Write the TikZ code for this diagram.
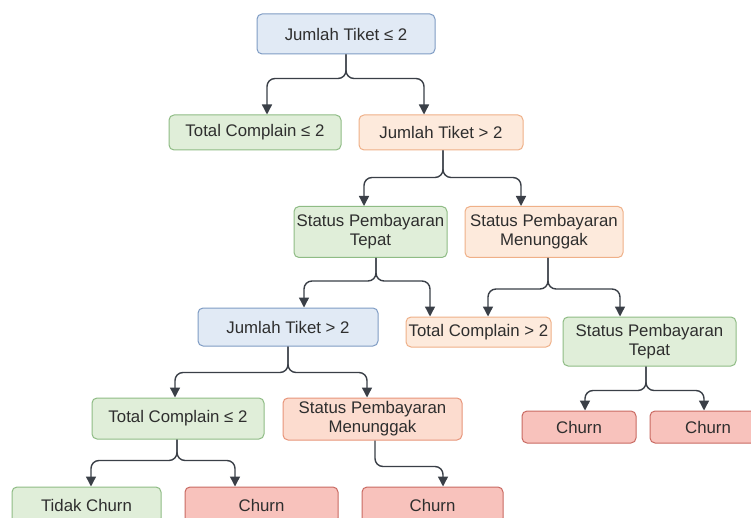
\documentclass[tikz,border=0pt]{standalone}
\usepackage{fontspec}
\setmainfont{Liberation Sans}
\usetikzlibrary{arrows.meta}

\definecolor{blueFill}{HTML}{E1EAF5}
\definecolor{blueLine}{HTML}{7F9CC4}
\definecolor{greenFill}{HTML}{E0EED9}
\definecolor{greenLine}{HTML}{8FBC85}
\definecolor{peachFill}{HTML}{FDEADC}
\definecolor{peachLine}{HTML}{EFB088}
\definecolor{salmonFill}{HTML}{FCDCCF}
\definecolor{salmonLine}{HTML}{E8957A}
\definecolor{redFill}{HTML}{F8C2BC}
\definecolor{redLine}{HTML}{C96A62}
\definecolor{wire}{HTML}{3A3F47}

\begin{document}
\begin{tikzpicture}[x=1pt, y=-1pt,
    >={Triangle[width=10pt,length=10pt]},
    box/.style={draw, rounded corners=5pt, line width=1pt, align=center,
      inner sep=0pt, font=\fontsize{16.8}{19}\selectfont, text=black!82},
    blue/.style={box, fill=blueFill, draw=blueLine},
    green/.style={box, fill=greenFill, draw=greenLine},
    peach/.style={box, fill=peachFill, draw=peachLine},
    salmon/.style={box, fill=salmonFill, draw=salmonLine},
    red/.style={box, fill=redFill, draw=redLine},
    edge/.style={->, line width=1.4pt, draw=wire, rounded corners=8pt}]

  \clip (0,0) rectangle (751,518);
  \fill[white] (0,0) rectangle (751,518);

  \node[blue,   minimum width=178, minimum height=40] (root)   at (346,34)    {Jumlah Tiket ≤ 2};
  \node[green,  minimum width=172, minimum height=35] (tc1)    at (255,132.5) {Total Complain ≤ 2};
  \node[peach,  minimum width=164, minimum height=35] (jt1)    at (441,132.5) {Jumlah Tiket > 2};
  \node[green,  minimum width=153, minimum height=51] (spt1)   at (370.5,232) {Status Pembayaran\\Tepat};
  \node[peach,  minimum width=158, minimum height=51] (spm1)   at (544,232)   {Status Pembayaran\\Menunggak};
  \node[blue,   minimum width=180, minimum height=38] (jt2)    at (288,327)   {Jumlah Tiket > 2};
  \node[peach,  minimum width=145, minimum height=30] (tc2)    at (478.5,332) {Total Complain > 2};
  \node[green,  minimum width=173, minimum height=49] (spt2)   at (649.5,341.5) {Status Pembayaran\\Tepat};
  \node[green,  minimum width=172, minimum height=41] (tc3)    at (178,418.5) {Total Complain ≤ 2};
  \node[salmon, minimum width=179, minimum height=42] (spm2)   at (372.5,419) {Status Pembayaran\\Menunggak};
  \node[green,  minimum width=149, minimum height=36] (tidak)  at (86.5,505)  {Tidak Churn};
  \node[red,    minimum width=153, minimum height=36] (churnA) at (261.5,505) {Churn};
  \node[red,    minimum width=141, minimum height=36] (churnB) at (432.5,505) {Churn};
  \node[red,    minimum width=114, minimum height=32] (churnC) at (579,427)   {Churn};
  \node[red,    minimum width=116, minimum height=32] (churnD) at (708,427)   {Churn};

  \draw[edge] (root.south) -- ++(0,24) -| ([xshift=12]tc1.north);
  \draw[edge] (root.south) -- ++(0,24) -| ([xshift=-17]jt1.north);
  \draw[edge] ([xshift=2]jt1.south) -- ++(0,27) -| ([xshift=-6.5]spt1.north);
  \draw[edge] ([xshift=2]jt1.south) -- ++(0,27) -| ([xshift=-23]spm1.north);
  \draw[edge] ([xshift=5.5]spt1.south) -- ++(0,23) -| ([xshift=16]jt2.north);
  \draw[edge] ([xshift=5.5]spt1.south) -- ++(0,23) -| ([xshift=-48.5]tc2.north);
  \draw[edge] ([xshift=4]spm1.south) -- ++(0,31) -| ([xshift=9.5]tc2.north);
  \draw[edge] ([xshift=4]spm1.south) -- ++(0,31) -| ([xshift=-29.5]spt2.north);
  \draw[edge] (jt2.south) -- ++(0,26) -| ([xshift=-3]tc3.north);
  \draw[edge] (jt2.south) -- ++(0,26) -| ([xshift=-5.5]spm2.north);
  \draw[edge] ([xshift=-1]tc3.south) -- ++(0,21) -| ([xshift=4.5]tidak.north);
  \draw[edge] ([xshift=-1]tc3.south) -- ++(0,21) -| ([xshift=-26.5]churnA.north);
  \draw[edge] ([xshift=2.5]spm2.south) -- ++(0,26) -| ([xshift=10.5]churnB.north);
  \draw[edge] ([xshift=-3.5]spt2.south) -- ++(0,24) -| ([xshift=6]churnC.north);
  \draw[edge] ([xshift=-3.5]spt2.south) -- ++(0,24) -| ([xshift=-4]churnD.north);
\end{tikzpicture}
\end{document}
